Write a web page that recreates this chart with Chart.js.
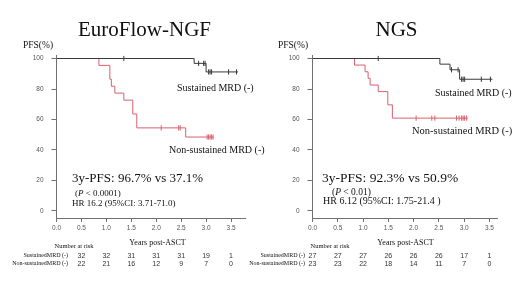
<!DOCTYPE html>
<html><head><meta charset="utf-8">
<script src="https://cdn.jsdelivr.net/npm/chart.js@4/dist/chart.umd.min.js"></script>
<style>
html,body{margin:0;padding:0;background:#fff;width:520px;height:292px;overflow:hidden;position:relative}
canvas{position:absolute;top:0}
#c1{left:0}
#c2{left:240px}
</style></head><body>
<canvas id="c1" width="270" height="292"></canvas>
<canvas id="c2" width="280" height="292"></canvas>
<script>
// ---------- DATA ----------
// Panel 1: EuroFlow-NGF
const ngfSustTimes = [0, 2.76, 3.0, 3.64];
const ngfSustSurv  = [100, 96.8, 91.2, 91.2];
const ngfSustCensTimes = [1.35, 2.85, 2.95, 2.98, 3.05, 3.08, 3.11, 3.45, 3.61];
const ngfSustCensSurv  = [100, 96.8, 96.8, 96.8, 91.2, 91.2, 91.2, 91.2, 91.2];
const ngfNonTimes = [0, 0.85, 1.07, 1.10, 1.17, 1.35, 1.53, 1.61, 2.59, 3.15];
const ngfNonSurv  = [100, 95.5, 86.4, 81.8, 77.3, 72.7, 63.6, 54.5, 48.5, 48.5];
const ngfNonCensTimes = [2.10, 2.45, 2.48, 3.02, 3.05, 3.08, 3.11, 3.14];
const ngfNonCensSurv  = [54.5, 54.5, 54.5, 48.5, 48.5, 48.5, 48.5, 48.5];
const ngfRiskTimes = [0.5, 1.0, 1.5, 2.0, 2.5, 3.0, 3.5];
const ngfRiskSust = [32, 32, 31, 31, 31, 19, 1];
const ngfRiskNon  = [22, 21, 16, 12, 9, 7, 0];

// Panel 2: NGS
const ngsSustTimes = [0, 2.52, 2.72, 2.91, 3.56];
const ngsSustSurv  = [100, 96.3, 92.6, 86.4, 86.4];
const ngsSustCensTimes = [1.30, 2.75, 2.88, 2.95, 2.98, 3.01, 3.34, 3.52];
const ngsSustCensSurv  = [100, 92.6, 92.6, 86.4, 86.4, 86.4, 86.4, 86.4];
const ngsNonTimes = [0, 0.83, 1.04, 1.10, 1.14, 1.30, 1.49, 1.58, 3.07];
const ngsNonSurv  = [100, 95.7, 91.3, 87.0, 82.6, 78.3, 69.6, 60.9, 60.9];
const ngsNonCensTimes = [2.05, 2.36, 2.42, 2.85, 2.90, 2.95, 2.98, 3.01, 3.05];
const ngsNonCensSurv  = [60.9, 60.9, 60.9, 60.9, 60.9, 60.9, 60.9, 60.9, 60.9];
const ngsRiskTimes = [0, 0.5, 1.0, 1.5, 2.0, 2.5, 3.0, 3.5];
const ngsRiskSust = [27, 27, 27, 26, 26, 26, 17, 1];
const ngsRiskNon  = [23, 23, 22, 18, 14, 11, 7, 0];

const xTickValues = [0, 0.5, 1.0, 1.5, 2.0, 2.5, 3.0, 3.5];
const yTickValues = [0, 20, 40, 60, 80, 100];

// ---------- STYLE ----------
const SERIF = '"Liberation Serif", "Times New Roman", serif';
const SANS = '"Liberation Sans", Arial, sans-serif';
const BLACK = '#3a3a3a';
const RED = '#d9606b';
const AXIS = '#707070';

const pts = (t, s) => t.map((v, i) => ({x: v, y: s[i]}));

const textPlugin = {
  id: 'kmText',
  afterDraw(chart, args, opts) {
    const ctx = chart.ctx, xs = chart.scales.x;
    ctx.save();
    ctx.textBaseline = 'alphabetic';
    for (const it of opts.items) {
      ctx.fillStyle = it.color || '#111';
      if (it.segs) {
        let x = it.x;
        ctx.textAlign = 'left';
        for (const s of it.segs) {
          ctx.font = s.font;
          ctx.fillText(s.t, x, it.y);
          x += ctx.measureText(s.t).width;
        }
      } else {
        ctx.font = it.font;
        ctx.textAlign = it.align || 'left';
        ctx.fillText(it.t, it.x, it.y);
      }
    }
    const r = opts.risk;
    ctx.font = r.font; ctx.textAlign = 'center'; ctx.fillStyle = '#333';
    r.rows.forEach((row, i) => row.forEach((v, j) => {
      ctx.fillText(String(v), xs.getPixelForValue(r.times[j]), r.y[i]);
    }));
    ctx.restore();
  }
};

function makePanel(id, p) {
  return new Chart(document.getElementById(id), {
    type: 'line',
    data: {
      datasets: [
        {data: pts(p.sustT, p.sustS), borderColor: BLACK, borderWidth: 1, stepped: 'before', pointRadius: 0, fill: false},
        {data: pts(p.nonT, p.nonS), borderColor: RED, borderWidth: 1, stepped: 'before', pointRadius: 0, fill: false},
        {data: pts(p.sustCT, p.sustCS), showLine: false, pointStyle: 'line', rotation: 90, pointRadius: 2.6, borderColor: BLACK, borderWidth: 1},
        {data: pts(p.nonCT, p.nonCS), showLine: false, pointStyle: 'line', rotation: 90, pointRadius: 2.6, borderColor: RED, borderWidth: 1}
      ]
    },
    options: {
      responsive: false, animation: false, devicePixelRatio: 1,
      layout: {padding: {left: 0, right: p.padRight, top: 55, bottom: 0}},
      plugins: {legend: {display: false}, tooltip: {enabled: false},
        kmText: {items: p.items, risk: p.risk}},
      scales: {
        x: {type: 'linear', min: 0, max: p.xMax,
          afterBuildTicks: s => { s.ticks = xTickValues.map(v => ({value: v})); },
          afterFit: s => { s.height = 74; },
          border: {display: true, color: AXIS, width: 1},
          grid: {drawOnChartArea: false, tickLength: 4, color: AXIS},
          ticks: {padding: 2, color: '#555', font: {family: SANS, size: 6.5}, callback: v => Number(v).toFixed(1), maxRotation: 0, autoSkip: false}
        },
        y: {type: 'linear', min: -4.6, max: 102.3,
          afterBuildTicks: s => { s.ticks = yTickValues.map(v => ({value: v})); },
          afterFit: s => { s.width = p.yWidth; },
          border: {display: true, color: AXIS, width: 1},
          grid: {drawOnChartArea: false, tickLength: 5, color: AXIS},
          ticks: {padding: 8, color: '#555', font: {family: SANS, size: 6.5}}
        }
      }
    },
    plugins: [textPlugin]
  });
}

const Pital = (x, y, size, rest) => ({x, y, segs: [
  {t: '(', font: size + 'px ' + SERIF},
  {t: 'P', font: 'italic ' + size + 'px ' + SERIF},
  {t: rest, font: size + 'px ' + SERIF}]});

makePanel('c1', {
  sustT: ngfSustTimes, sustS: ngfSustSurv, sustCT: ngfSustCensTimes, sustCS: ngfSustCensSurv,
  nonT: ngfNonTimes, nonS: ngfNonSurv, nonCT: ngfNonCensTimes, nonCS: ngfNonCensSurv,
  xMax: 3.78, padRight: 25, yWidth: 56.5,
  items: [
    {t: 'EuroFlow-NGF', x: 144.5, y: 36, font: '21px ' + SERIF, align: 'center'},
    {t: 'PFS(%)', x: 23, y: 48, font: '9.5px ' + SERIF},
    {t: 'Sustained MRD (-)', x: 177, y: 91, font: '10px ' + SERIF},
    {t: 'Non-sustained MRD (-)', x: 169, y: 153, font: '10px ' + SERIF},
    {t: '3y-PFS: 96.7% vs 37.1%', x: 72, y: 182, font: '13px ' + SERIF},
    Pital(75, 196, 9, ' < 0.0001)'),
    {t: 'HR 16.2 (95%CI: 3.71-71.0)', x: 72, y: 206, font: '9px ' + SERIF},
    {t: 'Years post-ASCT', x: 157.5, y: 245, font: '8px ' + SERIF, align: 'center'},
    {t: 'Number at risk', x: 74, y: 248, font: '6.5px ' + SERIF, align: 'center'},
    {t: 'SustainedMRD (-)', x: 68, y: 257, font: '6px ' + SERIF, align: 'right'},
    {t: 'Non-sustainedMRD (-)', x: 68, y: 265, font: '6px ' + SERIF, align: 'right'}
  ],
  risk: {times: ngfRiskTimes, rows: [ngfRiskSust, ngfRiskNon], y: [258, 266], font: '7px ' + SANS}
});

makePanel('c2', {
  sustT: ngsSustTimes, sustS: ngsSustSurv, sustCT: ngsSustCensTimes, sustCS: ngsSustCensSurv,
  nonT: ngsNonTimes, nonS: ngsNonSurv, nonCT: ngsNonCensTimes, nonCS: ngsNonCensSurv,
  xMax: 3.65, padRight: 23, yWidth: 72.5,
  items: [
    {t: 'NGS', x: 156.5, y: 36, font: '21px ' + SERIF, align: 'center'},
    {t: 'PFS(%)', x: 38, y: 48, font: '9.5px ' + SERIF},
    {t: 'Sustained MRD (-)', x: 195, y: 96, font: '10px ' + SERIF},
    {t: 'Non-sustained MRD (-)', x: 172, y: 134, font: '10.5px ' + SERIF},
    {t: '3y-PFS: 92.3% vs 50.9%', x: 82, y: 182, font: '13.5px ' + SERIF},
    Pital(92, 195, 9.5, ' < 0.01)'),
    {t: 'HR 6.12 (95%CI: 1.75-21.4 )', x: 83, y: 204, font: '10px ' + SERIF},
    {t: 'Years post-ASCT', x: 165.5, y: 245, font: '8px ' + SERIF, align: 'center'},
    {t: 'Number at risk', x: 90, y: 248, font: '6.5px ' + SERIF, align: 'center'},
    {t: 'SustainedMRD (-)', x: 65, y: 257, font: '6px ' + SERIF, align: 'right'},
    {t: 'Non-sustainedMRD (-)', x: 65, y: 265, font: '6px ' + SERIF, align: 'right'}
  ],
  risk: {times: ngsRiskTimes, rows: [ngsRiskSust, ngsRiskNon], y: [258, 266], font: '7px ' + SANS}
});
</script></body></html>
